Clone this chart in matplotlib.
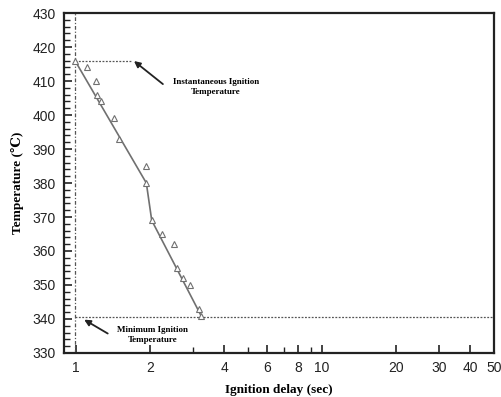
import matplotlib
matplotlib.use('Agg')
import matplotlib.pyplot as plt
from matplotlib.ticker import FixedLocator, NullFormatter, MultipleLocator

# measured ignition delay (sec) vs temperature (C)
delay = [0.99, 1.11, 1.20, 1.22, 1.26, 1.42, 1.49, 1.93, 1.93, 2.03,
         2.23, 2.49, 2.57, 2.73, 2.91, 3.17, 3.22]
temp = [416, 414, 410, 406, 404, 399, 393, 385, 380, 369,
        365, 362, 355, 352, 350, 343, 341]

# trend line
fit_delay = [0.99, 1.93, 2.03, 3.22]
fit_temp = [416, 380, 369, 341]

min_temp = 340.7
inst_temp = 416
ref_delay = 0.99

x_ticks = [1, 2, 4, 6, 8, 10, 20, 30, 40, 50]
x_minor = [3, 5, 7, 9]

serif = ['Liberation Serif', 'DejaVu Serif']

fig = plt.figure(figsize=(5.01, 3.97), dpi=100)
ax = fig.add_axes([0.128, 0.111, 0.858, 0.856])

ax.plot(fit_delay, fit_temp, color='#707070', lw=1.2, zorder=3)
ax.plot(delay, temp, ls='none', marker='^', ms=4.5, mfc='white',
        mec='#707070', mew=0.8, zorder=4)

ax.axvline(ref_delay, color='#555555', lw=0.9, ls=(0, (3, 1.5, 1, 1.5)))
ax.plot([ref_delay, 50], [min_temp, min_temp], color='#555555', lw=0.9,
        ls=(0, (1.5, 1.2)))
ax.plot([ref_delay, 1.68], [inst_temp, inst_temp], color='#555555', lw=0.9,
        ls=(0, (1.5, 1.2)))

ax.annotate('', xy=(1.685, 416.4), xytext=(2.30, 408.6),
            arrowprops=dict(arrowstyle='-|>', color='#222222', lw=1.3,
                            mutation_scale=9))
ax.text(3.70, 408.3, 'Instantaneous Ignition\nTemperature', ha='center',
        va='center', fontsize=6.5, fontweight='bold', family=serif,
        linespacing=1.3)
ax.annotate('', xy=(1.055, 340.2), xytext=(1.375, 335.3),
            arrowprops=dict(arrowstyle='-|>', color='#222222', lw=1.3,
                            mutation_scale=9))
ax.text(2.045, 335.2, 'Minimum Ignition\nTemperature', ha='center',
        va='center', fontsize=6.5, fontweight='bold', family=serif,
        linespacing=1.3)

ax.set_xscale('log')
ax.set_xlim(0.894, 50)
ax.set_ylim(330, 430)
ax.xaxis.set_major_locator(FixedLocator(x_ticks))
ax.set_xticklabels([str(t) for t in x_ticks])
ax.xaxis.set_minor_locator(FixedLocator(x_minor))
ax.xaxis.set_minor_formatter(NullFormatter())
ax.yaxis.set_major_locator(MultipleLocator(10))
ax.yaxis.set_minor_locator(MultipleLocator(2))

ax.tick_params(which='both', direction='in', top=False, right=False,
               labelsize=10, colors='#222222', pad=6)
ax.tick_params(which='major', length=6, width=1.2)
ax.tick_params(which='minor', length=4, width=1.0)
for lab in ax.get_xticklabels() + ax.get_yticklabels():
    lab.set_family(['Liberation Sans', 'DejaVu Sans'])

for s in ax.spines.values():
    s.set_linewidth(1.6)
    s.set_color('#222222')

ax.set_xlabel('Ignition delay (sec)', fontsize=9.5, fontweight='bold',
              family=serif, labelpad=6)
ax.set_ylabel('Temperature (\u2103)', fontsize=9.5, fontweight='bold',
              family=serif + ['DejaVu Sans'], labelpad=6)

fig.savefig('out.png', dpi=100)
